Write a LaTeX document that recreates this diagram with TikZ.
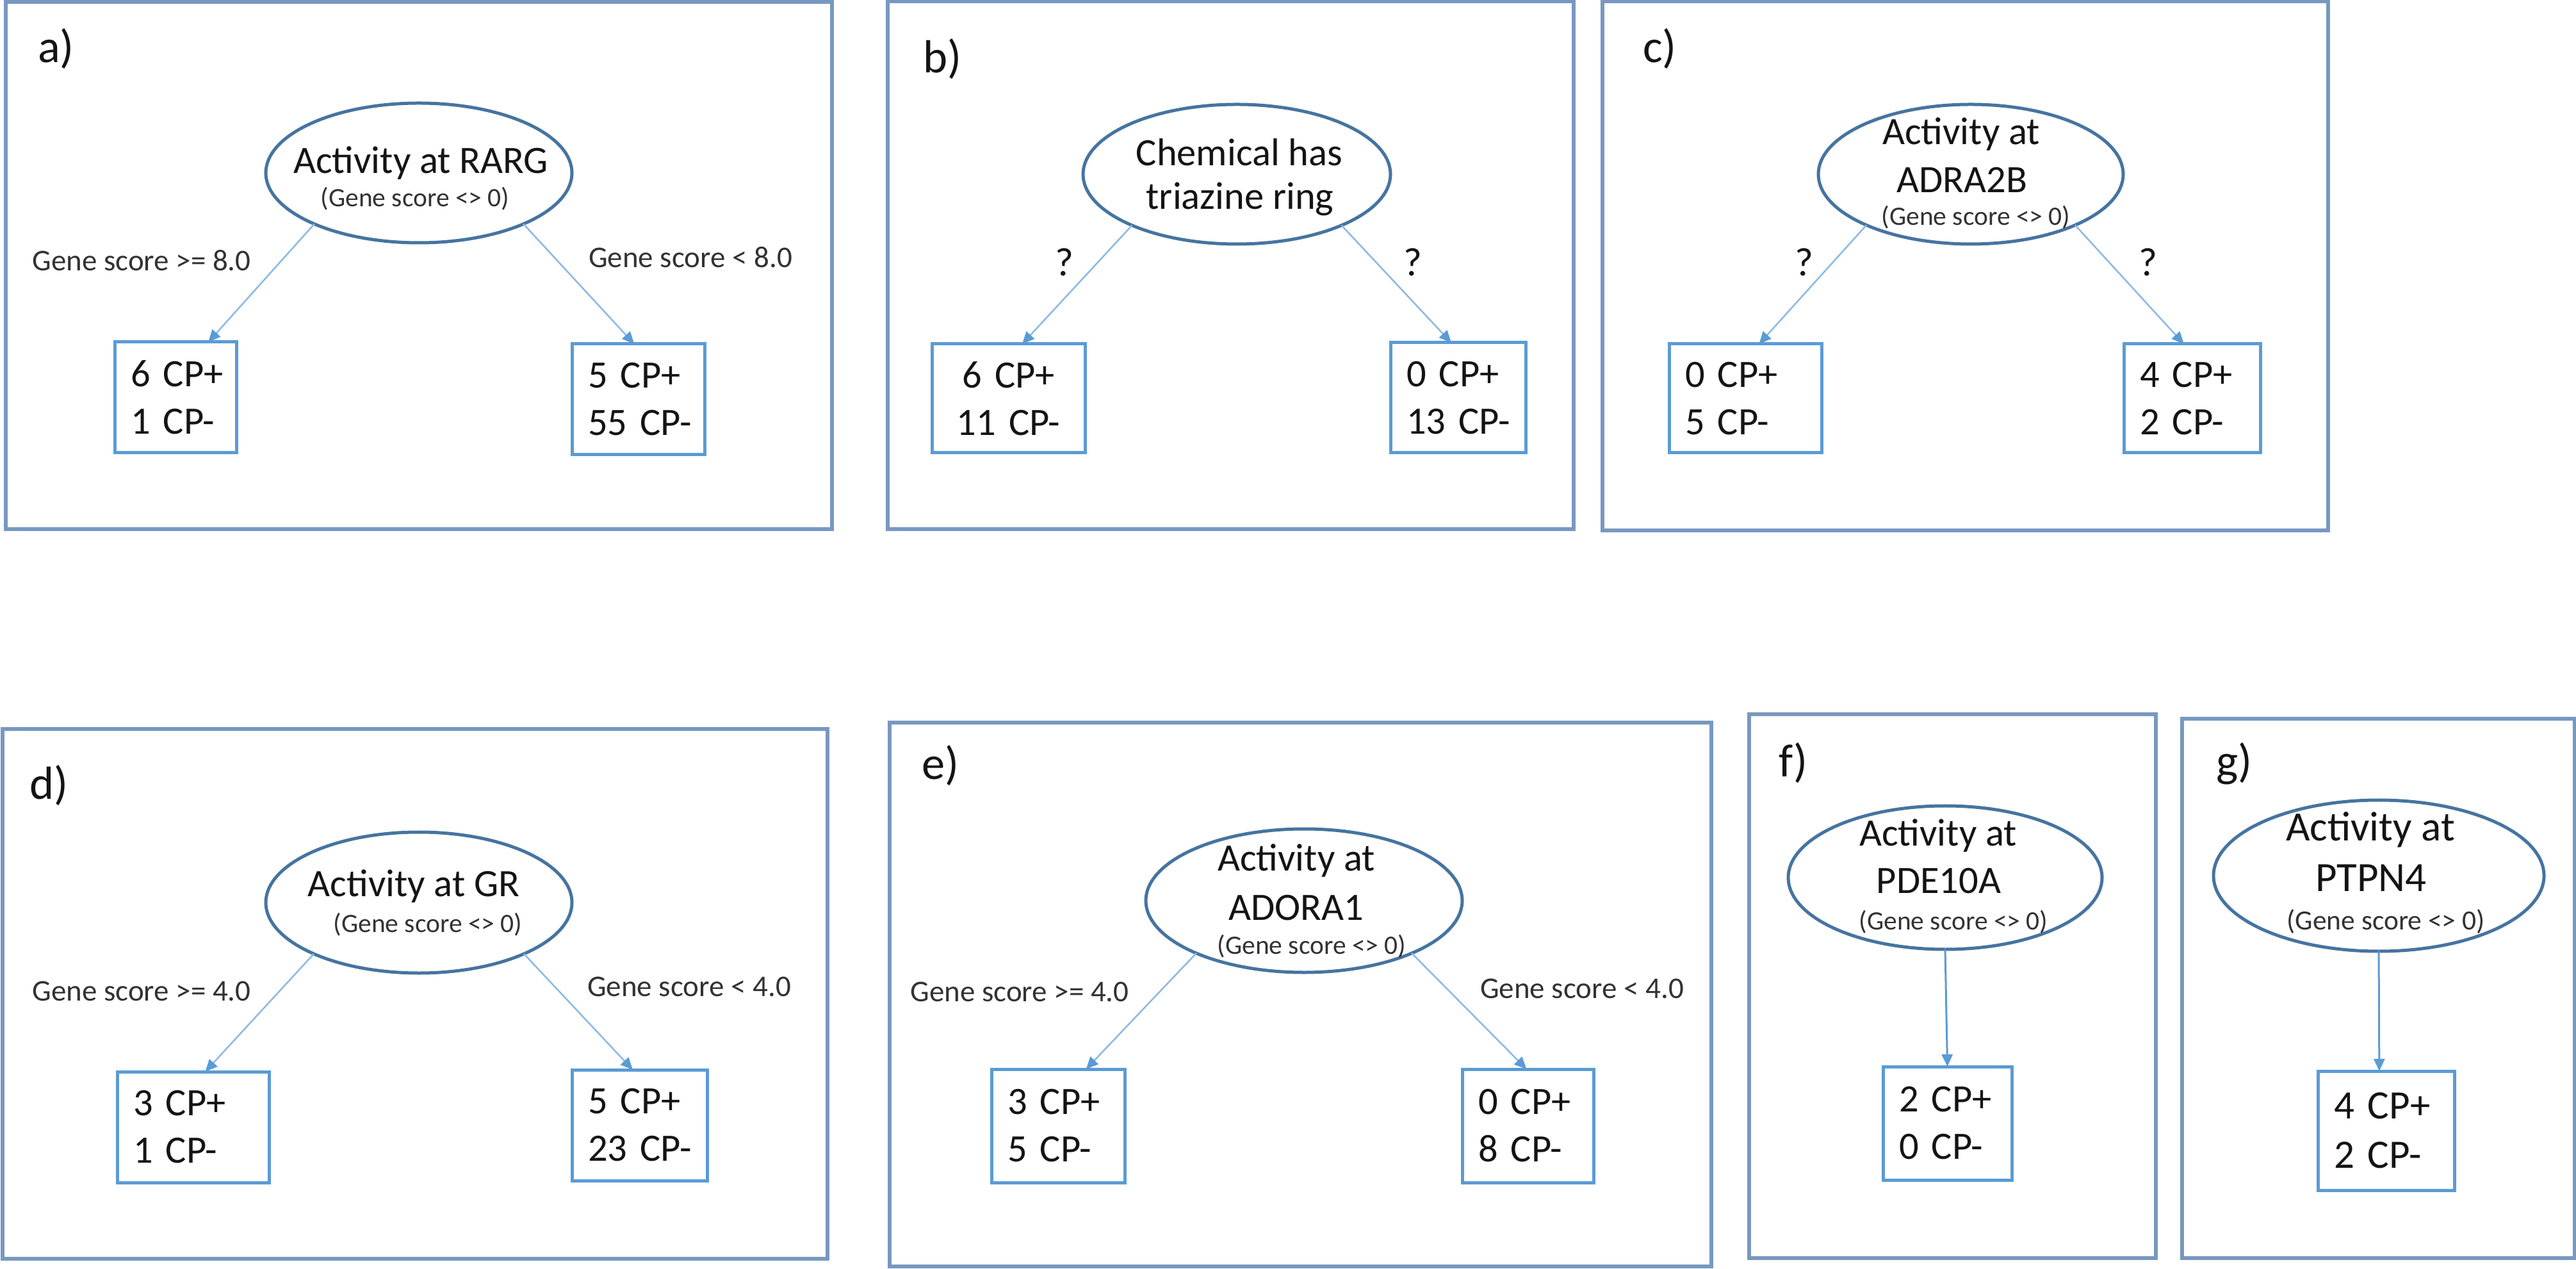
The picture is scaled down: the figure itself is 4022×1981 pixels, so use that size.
\documentclass[tikz,border=0pt]{standalone}
\usepackage{fontspec}
\setmainfont{Carlito}
\usetikzlibrary{shapes.geometric,arrows.meta,calc}
\definecolor{panelc}{RGB}{120,152,192}
\definecolor{ellc}{RGB}{70,116,160}
\definecolor{boxc}{RGB}{91,155,213}
\definecolor{arrc}{RGB}{140,185,228}
\definecolor{tipc}{RGB}{91,155,213}
\definecolor{txt}{RGB}{20,20,20}
\definecolor{subtxt}{RGB}{50,50,50}
\begin{document}
\begin{tikzpicture}[x=0.2pt,y=-0.2pt,
  panel/.style={draw=panelc,line width=1.2pt},
  plabel/.style={anchor=base west,font=\fontsize{14.5}{17}\selectfont,text=txt,inner sep=0},
  qnode/.style={draw=ellc,line width=1pt,ellipse,inner sep=0,outer sep=0},
  mtext/.style={anchor=base,font=\fontsize{12.1}{14.5}\selectfont,text=txt,inner sep=0},
  stext/.style={anchor=base,font=\fontsize{8.3}{10}\selectfont,text=subtxt,inner sep=0},
  etext/.style={anchor=base,font=\fontsize{9.4}{11}\selectfont,text=subtxt,inner sep=0},
  qtext/.style={anchor=base,font=\fontsize{12.5}{14}\selectfont,text=txt,inner sep=0},
  leaf/.style={draw=boxc,line width=1pt,inner xsep=5pt,inner ysep=1pt,outer sep=0,align=left,font=\fontsize{12.1}{14.8}\selectfont,text=txt},
  link/.style={draw=arrc,line width=0.5pt,-{Triangle[length=3.8pt,width=3.4pt,color=tipc]}}
]
\useasboundingbox (0,0) rectangle (4022,1981);

% ---------- panels
\draw[panel] (9,3) rectangle (1299,826);
\draw[panel] (1386,2) rectangle (2457,826);
\draw[panel] (2502,2) rectangle (3635,828);
\draw[panel] (4,1138) rectangle (1292,1965);
\draw[panel] (1389,1128) rectangle (2672,1977);
\draw[panel] (2731,1115) rectangle (3366,1964);
\draw[panel] (3407,1122) rectangle (4020,1964);

% ---------- panel labels
\node[plabel] (la) at (58,98) {a)};
\node[plabel] (lb) at (1440,114) {b)};
\node[plabel] (lc) at (2564,98) {c)};
\node[plabel] (ld) at (45,1247) {d)};
\node[plabel] (le) at (1438,1216) {e)};
\node[plabel] (lf) at (2776,1213) {f)};
\node[plabel] (lg) at (3459,1213) {g)};

% ---------- a)
\node[qnode,minimum width=95.6pt,minimum height=43.6pt] (ea) at (654,270) {};
\node[mtext] (ta1) at (657,271) {Activity at RARG};
\node[stext] (ta2) at (648,323) {(Gene score <> 0)};
\node[leaf,text width=28pt,minimum height=34.6pt] (aL) at (274,620.5) {\mbox{6 CP+}\\\mbox{1 CP-}};
\node[leaf,text width=31.4pt,minimum height=34.6pt] (aR) at (996.5,623.5) {\mbox{5 CP+}\\\mbox{55 CP-}};
\coordinate (aLt) at ($(aL.north west)!0.77!(aL.north east)$);
\coordinate (aRt) at ($(aR.north west)!0.47!(aR.north east)$);
\draw[link] (ea.206) -- (aLt);
\draw[link] (ea.334) -- (aRt);
\node[etext] (ga1) at (221,423) {Gene score >= 8.0};
\node[etext] (ga2) at (1078,418) {Gene score < 8.0};

% ---------- b)
\node[qnode,minimum width=96pt,minimum height=43.6pt] (eb) at (1931,272) {};
\node[mtext] (tb1) at (1935,259) {Chemical has};
\node[mtext] (tb2) at (1936,327) {triazine ring};
\node[leaf,align=center,text width=37.8pt,minimum height=34pt] (bL) at (1574.5,622) {\mbox{6 CP+}\\\mbox{11 CP-}};
\node[leaf,text width=32.2pt,minimum height=34.4pt] (bR) at (2276.5,621) {\mbox{0 CP+}\\\mbox{13 CP-}};
\coordinate (bLt) at ($(bL.north west)!0.59!(bL.north east)$);
\coordinate (bRt) at ($(bR.north west)!0.45!(bR.north east)$);
\draw[link] (eb.206) -- (bLt);
\draw[link] (eb.334) -- (bRt);
\node[qtext] (qb1) at (1662,431) {?};
\node[qtext] (qb2) at (2206,431) {?};

% ---------- c)
\node[qnode,minimum width=95.2pt,minimum height=43.6pt] (ec) at (3077,272) {};
\node[mtext] (tc1) at (3062,226) {Activity at};
\node[mtext] (tc2) at (3063,301) {ADRA2B};
\node[stext] (tc3) at (3085,352) {(Gene score <> 0)};
\node[leaf,text width=37.6pt,minimum height=34pt] (cL) at (2725,622) {\mbox{0 CP+}\\\mbox{5 CP-}};
\node[leaf,text width=32.6pt,minimum height=34pt] (cR) at (3422.5,622) {\mbox{4 CP+}\\\mbox{2 CP-}};
\coordinate (cLt) at ($(cL.north west)!0.59!(cL.north east)$);
\coordinate (cRt) at ($(cR.north west)!0.44!(cR.north east)$);
\draw[link] (ec.206) -- (cLt);
\draw[link] (ec.334) -- (cRt);
\node[qtext] (qc1) at (2817,431) {?};
\node[qtext] (qc2) at (3354,431) {?};

% ---------- d)
\node[qnode,minimum width=95.6pt,minimum height=44pt] (ed) at (654,1409) {};
\node[mtext] (td1) at (646,1399) {Activity at GR};
\node[stext] (td2) at (668,1455) {(Gene score <> 0)};
\node[leaf,text width=37.4pt,minimum height=34.6pt] (dL) at (301.5,1759.5) {\mbox{3 CP+}\\\mbox{1 CP-}};
\node[leaf,text width=32.2pt,minimum height=34.6pt] (dR) at (998.5,1756.5) {\mbox{5 CP+}\\\mbox{23 CP-}};
\coordinate (dLt) at ($(dL.north west)!0.58!(dL.north east)$);
\coordinate (dRt) at ($(dR.north west)!0.45!(dR.north east)$);
\draw[link] (ed.206) -- (dLt);
\draw[link] (ed.334) -- (dRt);
\node[etext] (gd1) at (221,1562) {Gene score >= 4.0};
\node[etext] (gd2) at (1076,1555) {Gene score < 4.0};

% ---------- e)
\node[qnode,minimum width=98.8pt,minimum height=44.8pt] (ee) at (2036,1406) {};
\node[mtext] (te1) at (2024,1359) {Activity at};
\node[mtext] (te2) at (2024,1436) {ADORA1};
\node[stext] (te3) at (2048,1489) {(Gene score <> 0)};
\node[leaf,text width=31.6pt,minimum height=35.4pt] (eL) at (1652,1757.5) {\mbox{3 CP+}\\\mbox{5 CP-}};
\node[leaf,text width=31pt,minimum height=35.4pt] (eR) at (2385.5,1757.5) {\mbox{0 CP+}\\\mbox{8 CP-}};
\coordinate (eLt) at ($(eL.north west)!0.71!(eL.north east)$);
\coordinate (eRt) at ($(eR.north west)!0.49!(eR.north east)$);
\draw[link] (ee.206) -- (eLt);
\draw[link] (ee.334) -- (eRt);
\node[etext] (ge1) at (1592,1563) {Gene score >= 4.0};
\node[etext] (ge2) at (2470,1558) {Gene score < 4.0};

% ---------- f)
\node[qnode,minimum width=98pt,minimum height=44.8pt] (ef) at (3037,1370) {};
\node[mtext] (tf1) at (3026,1320) {Activity at};
\node[mtext] (tf2) at (3027,1394) {PDE10A};
\node[stext] (tf3) at (3050,1451) {(Gene score <> 0)};
\node[leaf,text width=30.2pt,minimum height=35.4pt] (fB) at (3040.5,1753.5) {\mbox{2 CP+}\\\mbox{0 CP-}};
\draw[link,draw=tipc,line width=0.6pt] (ef.south) -- (fB.north);

% ---------- g)
\node[qnode,minimum width=103.2pt,minimum height=47.2pt] (eg) at (3714,1367) {};
\node[mtext,font=\fontsize{13}{15}\selectfont] (tg1) at (3701,1312) {Activity at};
\node[mtext,font=\fontsize{13}{15}\selectfont] (tg2) at (3702,1391) {PTPN4};
\node[stext,font=\fontsize{8.7}{10}\selectfont] (tg3) at (3725,1451) {(Gene score <> 0)};
\node[leaf,text width=32.6pt,minimum height=37.2pt,font=\fontsize{12.6}{15.4}\selectfont] (gB) at (3725.5,1765) {\mbox{4 CP+}\\\mbox{2 CP-}};
\coordinate (gBt) at ($(gB.north west)!0.45!(gB.north east)$);
\draw[link,draw=tipc,line width=0.6pt] (eg.south) -- (gBt);
\end{tikzpicture}
\end{document}
